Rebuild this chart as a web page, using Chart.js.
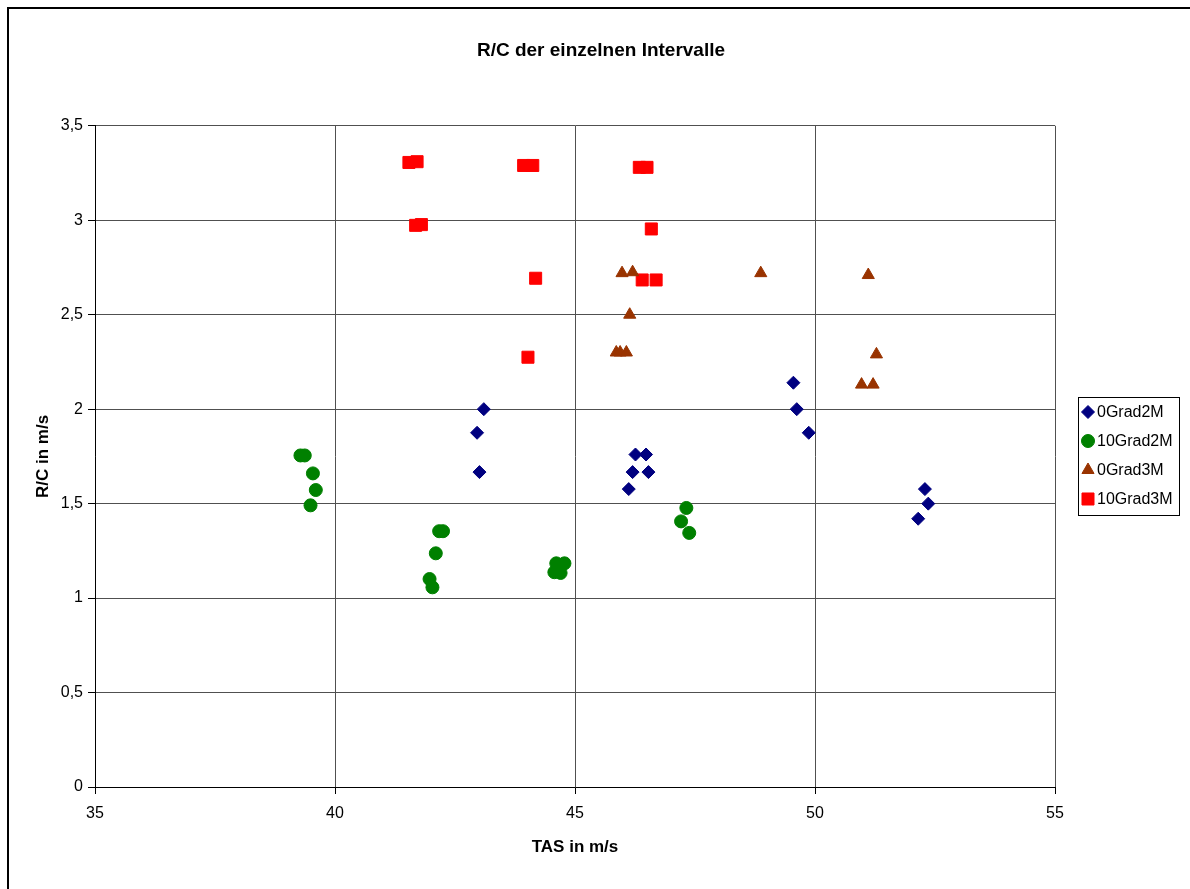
<!DOCTYPE html>
<html lang="de">
<head>
    <meta charset="UTF-8">
    <title>R/C der einzelnen Intervalle</title>
    <style>
        body { margin: 0; background: #fff; }
        canvas { display: block; }
    </style>
</head>
<body>
    <canvas id="rcChart" width="1190" height="889"></canvas>

    <script src="https://cdn.jsdelivr.net/npm/chart.js@4.4.1/dist/chart.umd.min.js"></script>
    <script>
        // Werte (TAS / R/C)
        var tas0Grad2M = [43.10, 42.96, 43.01, 46.26, 46.48, 46.20, 46.53, 46.12, 49.55, 49.62, 49.87, 52.29, 52.36, 52.15];
        var rc0Grad2M  = [2.00, 1.875, 1.667, 1.76, 1.76, 1.667, 1.667, 1.577, 2.14, 2.00, 1.875, 1.577, 1.50, 1.42];

        var tas10Grad2M = [39.28, 39.37, 39.54, 39.60, 39.49, 42.17, 42.25, 42.10, 41.97, 42.03, 44.61, 44.78, 44.57, 44.70, 47.32, 47.21, 47.38];
        var rc10Grad2M  = [1.755, 1.755, 1.66, 1.572, 1.491, 1.354, 1.354, 1.237, 1.101, 1.057, 1.184, 1.184, 1.137, 1.133, 1.477, 1.406, 1.345];

        var tas0Grad3M = [45.98, 46.20, 48.87, 51.11, 46.14, 45.86, 45.94, 46.07, 51.28, 50.97, 51.21];
        var rc0Grad3M  = [2.72, 2.725, 2.72, 2.71, 2.50, 2.30, 2.30, 2.30, 2.29, 2.13, 2.13];

        var tas10Grad3M = [41.54, 41.71, 43.93, 44.12, 46.34, 46.50, 41.68, 41.80, 46.59, 44.18, 46.40, 46.69, 44.02];
        var rc10Grad3M  = [3.306, 3.31, 3.29, 3.29, 3.28, 3.28, 2.973, 2.977, 2.954, 2.693, 2.684, 2.684, 2.275];

        var seriesNames = ["0Grad2M", "10Grad2M", "0Grad3M", "10Grad3M"];
        var yTickLabels = ["0", "0,5", "1", "1,5", "2", "2,5", "3", "3,5"];
        var xTickLabels = ["35", "40", "45", "50", "55"];

        function toPoints(xs, ys) {
            return xs.map(function(x, i) { return { x: x, y: ys[i] }; });
        }

        var fontName = "'Liberation Sans', Arial, sans-serif";

        // Rahmen links/oben wie im Original
        var framePlugin = {
            id: "frame",
            beforeDraw: function(chart) {
                var ctx = chart.ctx;
                ctx.save();
                ctx.fillStyle = "#fff";
                ctx.fillRect(0, 0, chart.width, chart.height);
                ctx.strokeStyle = "#000";
                ctx.lineWidth = 2;
                ctx.strokeRect(8, 8, chart.width + 20, chart.height + 20);
                ctx.restore();
            }
        };

        // Legende mit Kasten rechts
        var boxLegend = {
            id: "boxLegend",
            afterDraw: function(chart) {
                var ctx = chart.ctx;
                ctx.save();
                ctx.strokeStyle = "#000";
                ctx.lineWidth = 1;
                ctx.strokeRect(1078.5, 397.5, 101, 118);
                ctx.font = "16px " + fontName;
                ctx.textBaseline = "middle";
                ctx.textAlign = "left";
                var rows = [412, 441, 470, 499];
                chart.data.datasets.forEach(function(ds, i) {
                    ctx.fillStyle = ds.backgroundColor;
                    ctx.strokeStyle = ds.borderColor;
                    ctx.lineWidth = 1;
                    Chart.helpers.drawPoint(ctx, {
                        pointStyle: ds.pointStyle,
                        radius: ds.pointRadius,
                        borderWidth: 1,
                        rotation: 0
                    }, 1088, rows[i]);
                    ctx.fillStyle = "#000";
                    ctx.fillText(ds.label, 1097, rows[i] + 1);
                });
                ctx.restore();
            }
        };

        var ctx = document.getElementById("rcChart").getContext("2d");
        var rcChart = new Chart(ctx, {
            type: "scatter",
            data: {
                datasets: [{
                    label: seriesNames[0],
                    data: toPoints(tas0Grad2M, rc0Grad2M),
                    pointStyle: "rectRot",
                    pointRadius: 6.5,
                    backgroundColor: "#000080",
                    borderColor: "#000080"
                }, {
                    label: seriesNames[1],
                    data: toPoints(tas10Grad2M, rc10Grad2M),
                    pointStyle: "circle",
                    pointRadius: 6.5,
                    backgroundColor: "#008000",
                    borderColor: "#008000"
                }, {
                    label: seriesNames[2],
                    data: toPoints(tas0Grad3M, rc0Grad3M),
                    pointStyle: "triangle",
                    pointRadius: 7,
                    backgroundColor: "#993300",
                    borderColor: "#993300"
                }, {
                    label: seriesNames[3],
                    data: toPoints(tas10Grad3M, rc10Grad3M),
                    pointStyle: "rect",
                    pointRadius: 8.5,
                    backgroundColor: "#ff0000",
                    borderColor: "#ff0000"
                }]
            },
            options: {
                responsive: false,
                animation: false,
                layout: {
                    padding: { left: 12, right: 0, top: 0, bottom: 0 }
                },
                plugins: {
                    legend: { display: false },
                    tooltip: { enabled: false },
                    title: {
                        display: true,
                        text: "R/C der einzelnen Intervalle",
                        color: "#000",
                        font: { family: fontName, size: 19, weight: "bold" },
                        padding: { top: 39, bottom: 64 }
                    }
                },
                scales: {
                    x: {
                        type: "linear",
                        min: 35,
                        max: 55,
                        afterFit: function(scale) { scale.height = 102; },
                        ticks: {
                            stepSize: 5,
                            color: "#000",
                            padding: 10,
                            font: { family: fontName, size: 16 },
                            callback: function(value) {
                                return xTickLabels[Math.round((value - 35) / 5)];
                            }
                        },
                        grid: { color: "#505050", tickColor: "#000", tickLength: 7 },
                        border: { color: "#000" },
                        title: {
                            display: true,
                            text: "TAS in m/s",
                            color: "#000",
                            font: { family: fontName, size: 17, weight: "bold" },
                            padding: { top: 0, bottom: 31 }
                        }
                    },
                    y: {
                        type: "linear",
                        min: 0,
                        max: 3.5,
                        afterFit: function(scale) { scale.width = 83; },
                        ticks: {
                            stepSize: 0.5,
                            color: "#000",
                            padding: 5,
                            font: { family: fontName, size: 16 },
                            callback: function(value) {
                                return yTickLabels[Math.round(value * 2)];
                            }
                        },
                        grid: { color: "#505050", tickColor: "#000", tickLength: 7 },
                        border: { color: "#000" },
                        title: {
                            display: true,
                            text: "R/C in m/s",
                            color: "#000",
                            font: { family: fontName, size: 17, weight: "bold" },
                            padding: { top: 21, bottom: 0 }
                        }
                    },
                    // leere Achse rechts: Platz fuer die Legende
                    legendSpace: {
                        type: "linear",
                        position: "right",
                        min: 0,
                        max: 1,
                        afterFit: function(scale) { scale.width = 135; },
                        grid: { display: false },
                        border: { display: false },
                        ticks: { display: false }
                    }
                }
            },
            plugins: [framePlugin, boxLegend]
        });
    </script>
</body>
</html>
